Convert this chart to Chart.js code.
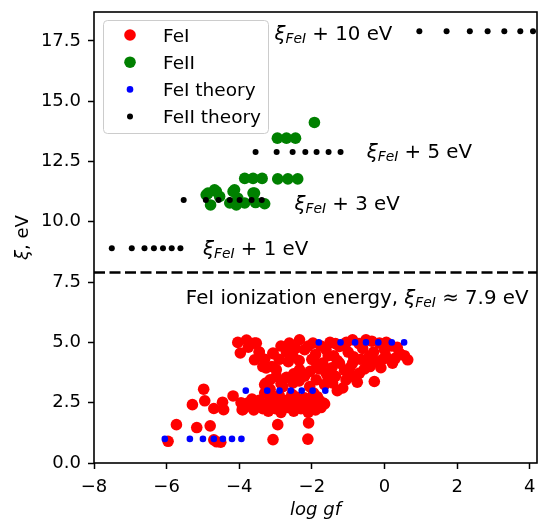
<!DOCTYPE html>
<html>
<head>
<meta charset="utf-8">
<script src="https://cdn.jsdelivr.net/npm/chart.js@4.4.1/dist/chart.umd.min.js"></script>
<style>
  html, body { margin: 0; padding: 0; background: #fff; }
</style>
</head>
<body>
<canvas id="chart" width="539" height="519"></canvas>
<script>
// tick labels
const xTicks = [-8, -6, -4, -2, 0, 2, 4];
const yTicks = [0, 2.5, 5, 7.5, 10, 12.5, 15, 17.5];

// FeI measured lines (log gf, excitation eV)
const feiX = [
  -5.96, -5.73, -5.29, -4.98, -4.95, -5.17, -4.80, -4.70, -4.51, -4.62, -4.70, -4.43, -4.46, -4.17, -3.92,
  -4.04, -3.80, -3.58, -3.97, -3.58, -3.26, -3.07, -2.98, -3.30, -3.62, -3.35, -3.03, -3.07, -2.94, -2.09, -2.11,
  -3.53, -3.07, -3.35, -3.26, -2.98, -2.62, -2.34, -1.97, -2.52, -2.34, -2.52, -2.80, -1.88, -1.88, -2.06,
  -1.61, -1.24, -0.88, -0.51, -0.14, -1.24, -0.88, -0.42, 0.04, 0.41, 0.64, 0.22, -0.69, -1.06, -1.43, -0.28, -1.15, -1.61, -1.70,
  -2.20, -1.40, -1.00, -0.60, -0.30, 0.20, -1.90, -2.70, -1.50, -0.65, -1.10, -0.40, -1.80, -2.20, -2.70, -3.15, 0.00, -0.20, -1.35, -0.90,
  -3.30, -3.10, -3.75, -3.45,
  -2.85, -2.45, -2.10, -1.75, -1.35, -1.05, -0.70, -0.35, 0.05, 0.35, 0.55, 0.30, -0.05, -0.45, -0.85, -1.30, -1.55, -2.00,
  -2.35, -2.65, -2.90, -0.10, -0.55, -0.95, -1.45, -2.05, -2.50, -2.85, -2.35, -1.65, -1.30, -1.55, -0.75, -3.15, -3.45,
  -3.90, -3.75, -3.60, -3.45, -3.35, -3.20, -3.10, -3.00, -2.85, -2.75, -2.65, -2.50, -2.40, -2.30, -2.20, -2.10, -2.00, -1.90, -1.80, -1.75,
  -2.55, -2.90, -3.30, -1.95, -1.65,
  -3.80, -3.50, -3.25, -2.95, -2.60, -2.35, -2.05, -1.70, -3.65, -3.15, -2.45, -2.75, -3.95, -1.85, -2.15
];
const feiY = [
  0.90, 1.59, 2.42, 3.06, 2.58, 1.47, 1.54, 0.96, 0.86, 0.88, 2.26, 2.21, 2.52, 2.78, 2.21,
  5.00, 5.10, 4.97, 4.56, 4.28, 3.94, 4.53, 3.59, 3.25, 2.42, 2.35, 2.42, 0.97, 1.59, 1.66, 0.99,
  4.97, 4.56, 4.00, 3.32, 3.87, 4.97, 5.11, 4.97, 4.42, 3.87, 3.32, 3.17, 4.14, 3.45, 3.17,
  4.70, 4.83, 5.11, 5.11, 4.97, 4.14, 4.14, 4.42, 4.42, 4.56, 4.28, 4.14, 3.73, 3.45, 3.32, 3.38, 3.11, 3.73, 4.14,
  4.70, 4.45, 4.60, 4.75, 4.60, 4.85, 4.50, 4.60, 5.00, 4.30, 3.85, 4.00, 3.90, 3.60, 3.55, 3.05, 4.70, 4.20, 3.60, 3.60,
  4.30, 4.00, 4.80, 4.60,
  4.85, 4.75, 4.85, 4.85, 4.95, 5.00, 4.95, 5.05, 5.00, 4.80, 4.45, 4.35, 4.30, 4.15, 4.40, 4.25, 4.45, 4.30,
  4.25, 4.20, 4.30, 3.95, 3.90, 3.95, 3.95, 3.80, 3.70, 3.30, 3.40, 3.25, 3.00, 3.50, 3.35, 3.45, 4.60,
  2.21, 2.50, 2.20, 2.60, 2.25, 2.15, 2.55, 2.25, 2.10, 2.60, 2.30, 2.15, 2.55, 2.25, 2.70, 2.10, 2.45, 2.20, 2.60, 2.30,
  2.85, 2.80, 2.90, 2.90, 2.45,
  2.35, 2.40, 2.45, 2.50, 2.55, 2.40, 2.65, 2.50, 2.65, 2.70, 2.75, 2.35, 2.50, 2.75, 2.35
];

// FeII measured lines
const feiiX = [-1.93, -2.95, -2.70, -2.45, -3.85, -3.62, -3.37, -2.94, -2.66, -2.39,
  -4.91, -4.79, -4.63, -4.54, -4.26, -4.17, -4.04, -3.85, -3.58, -3.55, -3.30,
  -4.86, -4.68, -4.13, -4.08, -3.62];
const feiiY = [14.12, 13.47, 13.47, 13.47, 11.80, 11.80, 11.80, 11.78, 11.78, 11.78,
  11.12, 10.70, 11.26, 11.05, 10.78, 11.26, 10.98, 10.78, 11.19, 10.80, 10.75,
  11.19, 11.33, 11.33, 10.70, 11.19];

// FeI theory rows
const feiThX = [-6.05, -5.36, -5.00, -4.70, -4.45, -4.20, -3.94,
  -3.82, -3.23, -2.89, -2.58, -2.28, -1.98, -1.63,
  -1.81, -1.21, -0.81, -0.51, -0.17, 0.20, 0.54];
const feiThY = [1, 1, 1, 1, 1, 1, 1, 3, 3, 3, 3, 3, 3, 3, 5, 5, 5, 5, 5, 5, 5];

// FeII theory rows
const feiiThX = [-7.51, -6.96, -6.61, -6.35, -6.10, -5.86, -5.62,
  -5.53, -4.92, -4.57, -4.26, -3.99, -3.66, -3.38,
  -3.55, -2.97, -2.53, -2.18, -1.87, -1.54, -1.21,
  0.96, 1.71, 2.35, 2.84, 3.30, 3.74, 4.09];
const feiiThY = [8.9, 8.9, 8.9, 8.9, 8.9, 8.9, 8.9,
  10.9, 10.9, 10.9, 10.9, 10.9, 10.9, 10.9,
  12.9, 12.9, 12.9, 12.9, 12.9, 12.9, 12.9,
  17.9, 17.9, 17.9, 17.9, 17.9, 17.9, 17.9];

const ionEnergy = 7.9;

const FONT = '"DejaVu Sans"';
const ANNO = 19.8;
const pts = (xs, ys) => xs.map((x, i) => ({ x: x, y: ys[i] }));

// offset labels next to the theory rows
const offsetLabels = [
  { x: -3.03, y: 17.82, tail: " + 10 eV" },
  { x: -0.49, y: 12.93, tail: " + 5 eV" },
  { x: -2.48, y: 10.77, tail: " + 3 eV" },
  { x: -5.00, y: 8.93, tail: " + 1 eV" }
];

function drawXi(ctx, x, base, head, tail) {
  ctx.font = ANNO + "px " + FONT;
  ctx.fillText(head, x, base);
  x += ctx.measureText(head).width;
  ctx.font = "italic " + ANNO + "px " + FONT;
  ctx.fillText("\u03BE", x, base);
  x += ctx.measureText("\u03BE").width;
  ctx.font = "italic " + (ANNO * 0.7) + "px " + FONT;
  ctx.fillText("FeI", x, base + 3);
  x += ctx.measureText("FeI").width;
  ctx.font = ANNO + "px " + FONT;
  ctx.fillText(tail, x, base);
}

const legendItems = [
  { label: "FeI", color: "#ff0000", r: 5.8 },
  { label: "FeII", color: "#008000", r: 5.8 },
  { label: "FeI theory", color: "#0000ff", r: 3.3 },
  { label: "FeII theory", color: "#000000", r: 3 }
];

const minus = v => (v < 0 ? "\u2212" + Math.abs(v) : String(v));

const overlay = {
  id: "overlay",
  beforeDatasetsDraw(chart) {
    const { ctx, chartArea: a, scales } = chart;
    const py = scales.y.getPixelForValue(ionEnergy);
    ctx.save();
    ctx.setLineDash([11, 4.5]);
    ctx.lineWidth = 2.4;
    ctx.strokeStyle = "#000";
    ctx.beginPath();
    ctx.moveTo(a.left, py);
    ctx.lineTo(a.right, py);
    ctx.stroke();
    ctx.restore();
  },
  afterDraw(chart) {
    const { ctx, chartArea: a, scales } = chart;
    ctx.save();
    ctx.fillStyle = "#000";
    ctx.textBaseline = "alphabetic";
    ctx.textAlign = "left";

    offsetLabels.forEach(l => {
      const px = scales.x.getPixelForValue(l.x);
      const py = scales.y.getPixelForValue(l.y) + 7.2;
      drawXi(ctx, px, py, "", l.tail);
    });
    drawXi(ctx, scales.x.getPixelForValue(-5.47), scales.y.getPixelForValue(6.9) + 7.2,
      "FeI ionization energy, ", " \u2248 7.9 eV");

    // x tick labels and title
    ctx.textAlign = "center";
    ctx.font = "18px " + FONT;
    xTicks.forEach(v => ctx.fillText(minus(v), scales.x.getPixelForValue(v), 492));
    ctx.font = "italic 18px " + FONT;
    ctx.fillText("log gf", (a.left + a.right) / 2, 515);
    ctx.textAlign = "left";

    // y title with italic xi
    ctx.translate(21, (a.top + a.bottom) / 2);
    ctx.rotate(-Math.PI / 2);
    ctx.font = "italic 18px " + FONT;
    const w1 = ctx.measureText("\u03BE").width;
    ctx.font = "18px " + FONT;
    const w2 = ctx.measureText(", eV").width;
    ctx.font = "italic 18px " + FONT;
    ctx.fillText("\u03BE", -(w1 + w2) / 2, 6.5);
    ctx.font = "18px " + FONT;
    ctx.fillText(", eV", -(w1 + w2) / 2 + w1, 6.5);
    ctx.setTransform(1, 0, 0, 1, 0, 0);

    // frame
    ctx.lineWidth = 1.6;
    ctx.strokeStyle = "#000";
    ctx.strokeRect(a.left, a.top, a.right - a.left, a.bottom - a.top);

    // legend
    const lx = 103.5, ly = 20.5, lw = 165, lh = 113;
    ctx.beginPath();
    ctx.roundRect(lx, ly, lw, lh, 4);
    ctx.fillStyle = "rgba(255,255,255,0.8)";
    ctx.fill();
    ctx.lineWidth = 1;
    ctx.strokeStyle = "#cccccc";
    ctx.stroke();
    legendItems.forEach((it, i) => {
      const cy = 35 + i * 27.2;
      ctx.beginPath();
      ctx.arc(130, cy, it.r, 0, Math.PI * 2);
      ctx.fillStyle = it.color;
      ctx.fill();
      ctx.fillStyle = "#000";
      ctx.font = "18.5px " + FONT;
      ctx.fillText(it.label, 163, cy + 6.6);
    });
    ctx.restore();
  }
};

new Chart(document.getElementById("chart"), {
  type: "scatter",
  data: {
    datasets: [
      { label: "FeI", data: pts(feiX, feiY), backgroundColor: "#ff0000", pointRadius: 5.8, borderWidth: 0, order: 4 },
      { label: "FeII", data: pts(feiiX, feiiY), backgroundColor: "#008000", pointRadius: 5.8, borderWidth: 0, order: 3 },
      { label: "FeI theory", data: pts(feiThX, feiThY), backgroundColor: "#0000ff", pointRadius: 3.3, borderWidth: 0, order: 2 },
      { label: "FeII theory", data: pts(feiiThX, feiiThY), backgroundColor: "#000000", pointRadius: 3, borderWidth: 0, order: 1 }
    ]
  },
  options: {
    responsive: false,
    animation: false,
    layout: { autoPadding: false, padding: { top: 12, right: 2, left: 0, bottom: 0 } },
    plugins: {
      legend: { display: false },
      tooltip: { enabled: false }
    },
    scales: {
      x: {
        min: -8,
        max: 4.2,
        afterBuildTicks: s => { s.ticks = xTicks.map(v => ({ value: v })); },
        afterFit: s => { s.height = 56; s.paddingLeft = 0; s.paddingRight = 0; },
        grid: { drawOnChartArea: false, drawTicks: true, tickLength: 6, tickWidth: 1.5, tickColor: "#000" },
        border: { display: false },
        ticks: { display: false },
        title: { display: false }
      },
      y: {
        min: 0,
        max: 18.7,
        afterBuildTicks: s => { s.ticks = yTicks.map(v => ({ value: v })); },
        afterFit: s => { s.width = 94; s.paddingTop = 0; s.paddingBottom = 0; },
        grid: { drawOnChartArea: false, drawTicks: true, tickLength: 6, tickWidth: 1.5, tickColor: "#000" },
        border: { display: false },
        ticks: { color: "#000", font: { family: FONT, size: 18 }, padding: 7, callback: v => v.toFixed(1) },
        title: { display: false }
      }
    }
  },
  plugins: [overlay]
});
</script>
</body>
</html>
